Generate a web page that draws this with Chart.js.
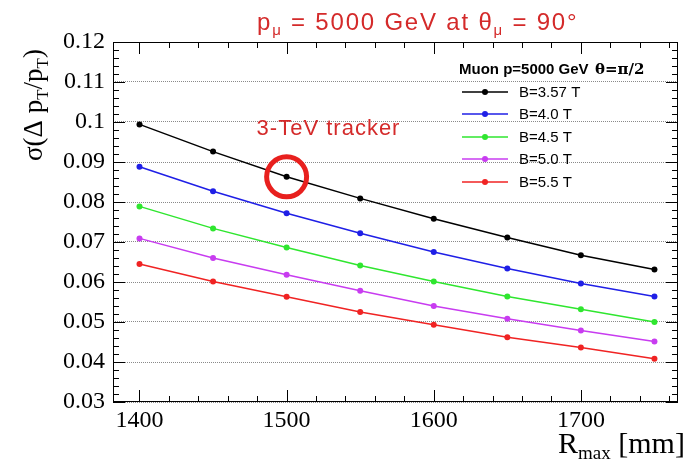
<!DOCTYPE html>
<html>
<head>
<meta charset="utf-8">
<script src="https://cdn.jsdelivr.net/npm/chart.js@4.4.1/dist/chart.umd.min.js"></script>
<style>
  html, body { margin: 0; padding: 0; background: #fff; }
  #wrap { width: 691px; height: 463px; }
</style>
</head>
<body>
<div id="wrap"><canvas id="resChart" width="691" height="463"></canvas></div>
<script>
// R_max values (mm)
const rMax = [1400, 1450, 1500, 1550, 1600, 1650, 1700, 1750];

// sigma(dpT/pT) for each field value
const bField357 = [0.0994, 0.0926, 0.0863, 0.0809, 0.0758, 0.0711, 0.0667, 0.0631];
const bField40  = [0.0888, 0.0827, 0.0772, 0.0722, 0.0675, 0.0634, 0.0596, 0.0564];
const bField45  = [0.0789, 0.0734, 0.0686, 0.0641, 0.0601, 0.0564, 0.0532, 0.0500];
const bField50  = [0.0709, 0.0660, 0.0618, 0.0578, 0.0540, 0.0508, 0.0479, 0.0451];
const bField55  = [0.0645, 0.0601, 0.0563, 0.0525, 0.0493, 0.0462, 0.0436, 0.0408];

const seriesNames = ["B=3.57 T", "B=4.0 T", "B=4.5 T", "B=5.0 T", "B=5.5 T"];
const seriesColors = ["#000000", "#1f1fe6", "#2fe62f", "#c83cf0", "#f02323"];
const seriesValues = [bField357, bField40, bField45, bField50, bField55];

const yTickValues = [0.03, 0.04, 0.05, 0.06, 0.07, 0.08, 0.09, 0.1, 0.11, 0.12];
const xTickValues = [1400, 1500, 1600, 1700];

const highlightR = 1500; // "3-TeV tracker" point on the B=3.57 T curve
const accent = "#d42a2a";
const serif = "'Liberation Serif', 'Times New Roman', serif";
const sans = "'Liberation Sans', Arial, sans-serif";

const datasets = seriesValues.map((vals, i) => ({
  label: seriesNames[i],
  data: rMax.map((r, j) => ({ x: r, y: vals[j] })),
  borderColor: seriesColors[i],
  backgroundColor: seriesColors[i],
  borderWidth: 1.5,
  pointRadius: 3,
  pointBorderWidth: 0,
  tension: 0
}));

function drawSub(ctx, x, y, main, sub, mainFont, subFont, dy) {
  ctx.font = mainFont;
  ctx.fillText(main, x, y);
  x += ctx.measureText(main).width;
  ctx.font = subFont;
  ctx.fillText(sub, x, y + dy);
  return x + ctx.measureText(sub).width;
}

const decorPlugin = {
  id: "decor",
  afterDatasetsDraw(chart) {
    const { ctx, chartArea: a, scales } = chart;
    const xs = scales.x, ys = scales.y;
    ctx.save();
    // frame
    ctx.strokeStyle = "#000";
    ctx.lineWidth = 1;
    ctx.strokeRect(a.left + 0.5, a.top + 0.5, a.right - a.left - 1, a.bottom - a.top - 1);
    // y ticks, inside, on both sides
    ctx.beginPath();
    for (let i = 0; i <= 45; i++) {
      const v = 0.03 + i * 0.002;
      const py = Math.round(ys.getPixelForValue(v)) + 0.5;
      const len = i % 5 === 0 ? 12 : 6;
      ctx.moveTo(a.left, py); ctx.lineTo(a.left + len, py);
      ctx.moveTo(a.right, py); ctx.lineTo(a.right - len, py);
    }
    // x ticks, inside, bottom and top
    for (let v = 1400; v <= 1760; v += 20) {
      const px = Math.round(xs.getPixelForValue(v)) + 0.5;
      const len = v % 100 === 0 ? 12 : 6;
      ctx.moveTo(px, a.bottom); ctx.lineTo(px, a.bottom - len);
      ctx.moveTo(px, a.top); ctx.lineTo(px, a.top + len);
    }
    ctx.stroke();
    ctx.restore();
  },
  afterDraw(chart) {
    const { ctx, scales } = chart;
    const xs = scales.x, ys = scales.y;
    ctx.save();
    ctx.textBaseline = "alphabetic";

    // title
    ctx.fillStyle = accent;
    ctx.letterSpacing = "1.8px";
    let tx = 257;
    const tf = "24px " + sans;
    const sf = "15px " + sans;
    tx = drawSub(ctx, tx, 30, "p", "\u03bc", tf, sf, 5);
    tx = drawSub(ctx, tx, 30, " = 5000 GeV at \u03b8", "\u03bc", tf, sf, 5);
    ctx.font = tf;
    ctx.fillText(" = 90\u00b0", tx, 30);
    ctx.letterSpacing = "0px";

    // x axis title
    ctx.fillStyle = "#000";
    let xx = 558;
    xx = drawSub(ctx, xx, 453, "R", "max", "30px " + serif, "19px " + serif, 6);
    ctx.font = "30px " + serif;
    ctx.fillText(" [mm]", xx, 453);

    // y axis title (rotated)
    ctx.save();
    ctx.translate(42, 161);
    ctx.rotate(-Math.PI / 2);
    const yf = "27px " + serif;
    const ysf = "17px " + serif;
    let yx = 0;
    yx = drawSub(ctx, yx, 0, "\u03c3(\u0394 p", "T", yf, ysf, 6);
    yx = drawSub(ctx, yx, 0, "/p", "T", yf, ysf, 6);
    ctx.font = yf;
    ctx.fillText(")", yx, 0);
    ctx.restore();

    // legend
    ctx.font = "bold 15px " + sans;
    ctx.fillText("Muon p=5000 GeV", 459, 74);
    ctx.font = "bold 15px 'DejaVu Serif', serif";
    ctx.fillText("\u03b8=\u03c0/2", 595, 74);
    const legY = [92, 114, 137, 159, 182];
    ctx.font = "15px " + sans;
    ctx.textBaseline = "middle";
    seriesNames.forEach((name, i) => {
      ctx.strokeStyle = seriesColors[i];
      ctx.fillStyle = seriesColors[i];
      ctx.lineWidth = 1.5;
      ctx.beginPath();
      ctx.moveTo(462, legY[i]); ctx.lineTo(508, legY[i]);
      ctx.stroke();
      ctx.beginPath();
      ctx.arc(485, legY[i], 3, 0, Math.PI * 2);
      ctx.fill();
      ctx.fillStyle = "#000";
      ctx.fillText(name, 519, legY[i] + 1);
    });

    // annotation: circle around the 1500 mm point of B=3.57 T
    const idx = rMax.indexOf(highlightR);
    const cx = xs.getPixelForValue(highlightR);
    const cy = ys.getPixelForValue(bField357[idx]);
    ctx.strokeStyle = "#e8201e";
    ctx.lineWidth = 5;
    ctx.beginPath();
    ctx.arc(cx, cy, 20, 0, Math.PI * 2);
    ctx.stroke();
    ctx.fillStyle = accent;
    ctx.font = "22px " + sans;
    ctx.letterSpacing = "1px";
    ctx.textBaseline = "middle";
    ctx.fillText("3-TeV tracker", cx - 30, cy - 48);
    ctx.restore();
  }
};

new Chart(document.getElementById("resChart").getContext("2d"), {
  type: "line",
  data: { datasets },
  options: {
    responsive: false,
    animation: false,
    layout: { padding: { left: 0, right: 13, top: 42, bottom: 0 } },
    plugins: { legend: { display: false }, tooltip: { enabled: false }, title: { display: false } },
    scales: {
      x: {
        type: "linear",
        min: 1382,
        max: 1766,
        afterFit: s => { s.height = 61; },
        afterBuildTicks: s => { s.ticks = xTickValues.map(v => ({ value: v })); },
        grid: { display: false, drawTicks: false },
        border: { display: false },
        ticks: {
          color: "#000",
          padding: 4,
          font: { family: serif, size: 24 },
          maxRotation: 0,
          callback: v => String(v)
        }
      },
      y: {
        min: 0.03,
        max: 0.12,
        afterFit: s => { s.width = 113; },
        afterBuildTicks: s => { s.ticks = yTickValues.map(v => ({ value: v })); },
        grid: { color: "#8a8a8a", lineWidth: 1, drawTicks: false },
        border: { display: false, dash: [1, 1] },
        ticks: {
          color: "#000",
          padding: 8,
          font: { family: serif, size: 24 },
          callback: v => String(Number(v.toFixed(2)))
        }
      }
    }
  },
  plugins: [decorPlugin]
});
</script>
</body>
</html>
